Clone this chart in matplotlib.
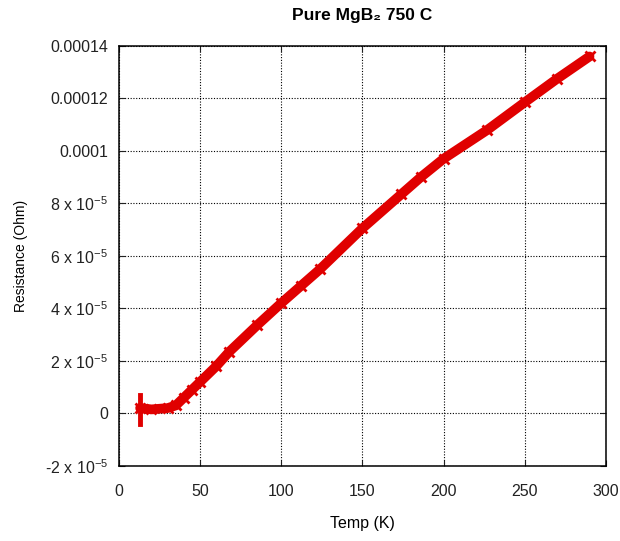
import matplotlib
matplotlib.use('Agg')
import matplotlib.pyplot as plt

plt.rcParams['font.family'] = ['Liberation Sans', 'DejaVu Sans']
plt.rcParams['mathtext.fontset'] = 'custom'
plt.rcParams['mathtext.rm'] = 'Liberation Sans'
plt.rcParams['mathtext.it'] = 'Liberation Sans'

# resistance vs temperature, read along the measured band
temp = [13, 20, 30, 35, 40, 45, 50, 60, 68, 85, 100, 112, 124, 150,
        174, 186, 200, 227, 250, 270, 290]
resistance = [0.2e-5, 0.15e-5, 0.2e-5, 0.3e-5, 0.6e-5, 0.9e-5, 1.2e-5,
              1.8e-5, 2.35e-5, 3.35e-5, 4.2e-5, 4.85e-5, 5.5e-5, 7.05e-5,
              8.35e-5, 9.0e-5, 9.7e-5, 1.08e-4, 1.185e-4, 1.275e-4, 1.36e-4]

# spread of readings at the lowest temperature
start_temp = [13, 13]
start_res = [-0.4e-5, 0.7e-5]

yticks = [-2e-5, 0, 2e-5, 4e-5, 6e-5, 8e-5, 1e-4, 1.2e-4, 1.4e-4]
ytick_labels = ['-2 x 10$^{-5}$', '0', '2 x 10$^{-5}$', '4 x 10$^{-5}$',
                '6 x 10$^{-5}$', '8 x 10$^{-5}$', '0.0001', '0.00012', '0.00014']
xticks = [0, 50, 100, 150, 200, 250, 300]

fig = plt.figure(figsize=(6.2, 5.41), dpi=100)
ax = fig.add_axes([0.192, 0.139, 0.785, 0.776])

ax.plot(temp, resistance, color='#e00000', lw=7, solid_capstyle='round',
        solid_joinstyle='round', zorder=3)
ax.plot(temp, resistance, color='#e00000', lw=0, marker='x', ms=7, mew=2,
        zorder=3)
ax.plot(start_temp, start_res, color='#e00000', lw=3.5, zorder=3)

ax.set_xlim(0, 300)
ax.set_ylim(-2e-5, 1.4e-4)
ax.set_xticks(xticks)
ax.set_yticks(yticks)
ax.set_yticklabels(ytick_labels)
ax.tick_params(direction='in', length=4, labelsize=11.5, pad=8,
               top=True, right=True, colors='#222222')
ax.tick_params(axis='x', pad=13)
ax.grid(True, color='black', linestyle=(0, (1, 1.5)), linewidth=0.8)
for s in ax.spines.values():
    s.set_linewidth(1.1)

ax.set_title('Pure MgB₂ 750 C', fontsize=12.5, fontweight='bold', pad=19)
ax.set_xlabel('Temp (K)', fontsize=11.5, labelpad=12)
ax.set_ylabel('Resistance (Ohm)', fontsize=10, labelpad=12)

plt.savefig('out.png', dpi=100)
